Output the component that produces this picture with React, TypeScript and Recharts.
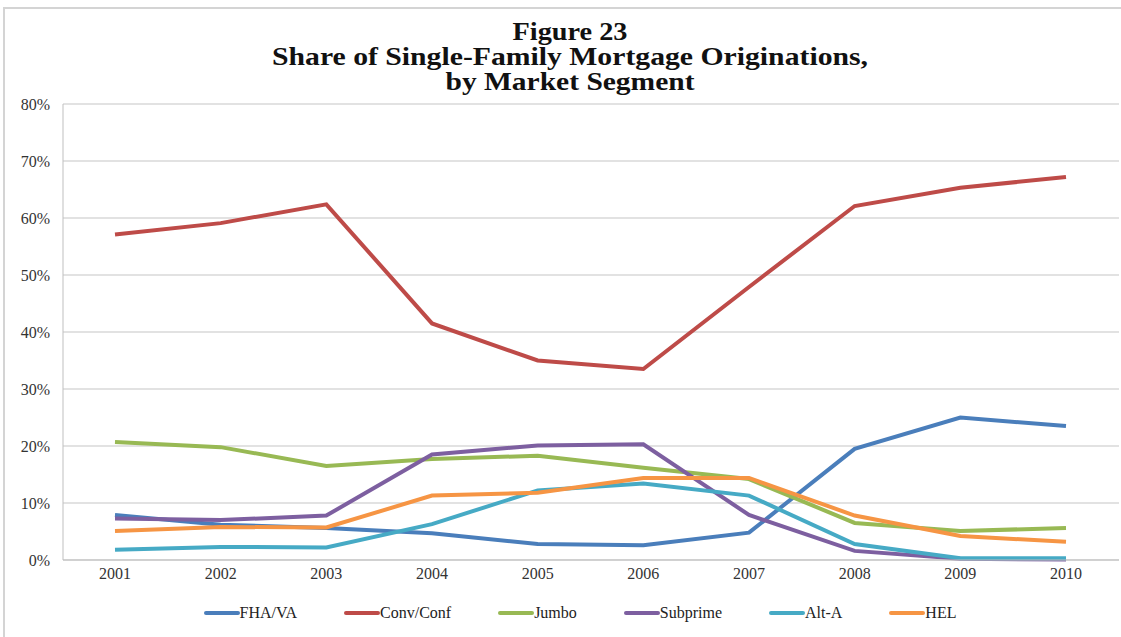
import { LineChart, Line, XAxis, YAxis, CartesianGrid, Legend } from "recharts";

const years = ["2001", "2002", "2003", "2004", "2005", "2006", "2007", "2008", "2009", "2010"];
const fhaVa = [7.9, 6.2, 5.6, 4.7, 2.8, 2.6, 4.8, 19.5, 25.0, 23.5];
const convConf = [57.1, 59.1, 62.4, 41.5, 35.0, 33.5, 47.9, 62.1, 65.3, 67.2];
const jumbo = [20.7, 19.8, 16.5, 17.7, 18.3, 16.2, 14.2, 6.5, 5.1, 5.6];
const subprime = [7.3, 7.0, 7.8, 18.5, 20.1, 20.3, 7.9, 1.6, 0.2, 0.1];
const altA = [1.8, 2.3, 2.2, 6.3, 12.2, 13.4, 11.3, 2.8, 0.3, 0.3];
const hel = [5.1, 5.8, 5.7, 11.3, 11.8, 14.4, 14.4, 7.8, 4.2, 3.2];
const yTicks = [0, 10, 20, 30, 40, 50, 60, 70, 80];
const titleLines = ["Figure 23", "Share of Single-Family Mortgage Originations,", "by Market Segment"];

const series = [
  { key: "fha", name: "FHA/VA", color: "#4a7ebb" },
  { key: "conv", name: "Conv/Conf", color: "#be4b48" },
  { key: "jumbo", name: "Jumbo", color: "#98b954" },
  { key: "sub", name: "Subprime", color: "#7d5fa0" },
  { key: "alt", name: "Alt-A", color: "#46aac5" },
  { key: "hel", name: "HEL", color: "#f69544" },
];

const data = years.map((year, i) => ({
  year,
  fha: fhaVa[i],
  conv: convConf[i],
  jumbo: jumbo[i],
  sub: subprime[i],
  alt: altA[i],
  hel: hel[i],
}));

const font = "Liberation Serif, Times New Roman, Times, serif";

function LegendBox() {
  return (
    <div style={{ display: "flex", justifyContent: "center", alignItems: "center", height: 32, paddingLeft: 41, gap: 47, fontFamily: font, fontSize: 16, color: "#222" }}>
      {series.map(s => (
        <div key={s.key} style={{ display: "flex", alignItems: "center" }}>
          <span style={{ display: "inline-block", width: 36, height: 4, borderRadius: 2, background: s.color }} />
          <span>{s.name}</span>
        </div>
      ))}
    </div>
  );
}

export default function App() {
  const titleWidths = [115, 596, 249];
  return (
    <div style={{ position: "absolute", left: 0, top: 0, width: 1121, height: 637, overflow: "hidden", background: "#fff", fontFamily: font }}>
      <div style={{ position: "absolute", left: 3, top: 7, width: 1140, height: 660, border: "2px solid #d4d4d4" }} />
      <LineChart width={1121} height={637} data={data} margin={{ top: 104, right: 2, left: 0, bottom: 0 }} style={{ position: "absolute", left: 0, top: 0, fontFamily: font }}>
        <CartesianGrid vertical={false} stroke="#d9d9d9" strokeWidth={1.5} />
        <XAxis dataKey="year" height={37} tickLine={false} stroke="#bfbfbf" padding={{ left: 52, right: 53 }}
          tick={{ fill: "#333", fontSize: 16, fontFamily: font }} />
        <YAxis width={63} domain={[0, 80]} ticks={yTicks} tickLine={false} stroke="#bfbfbf" tickMargin={7}
          tickFormatter={(v: number) => `${v}%`} tick={{ fill: "#333", fontSize: 16, fontFamily: font }} />
        <Legend verticalAlign="bottom" height={40} content={() => <LegendBox />} />
        {series.map(s => (
          <Line key={s.key} type="linear" dataKey={s.key} name={s.name} stroke={s.color} strokeWidth={4}
            dot={false} activeDot={false} isAnimationActive={false} />
        ))}
      </LineChart>
      <svg width={1121} height={100} style={{ position: "absolute", left: 0, top: 0 }}>
        {titleLines.map((t, i) => (
          <text key={t} x={570} y={40 + i * 25} textAnchor="middle" fontFamily={font} fontWeight="bold" fontSize={25}
            fill="#111" textLength={titleWidths[i]} lengthAdjust="spacingAndGlyphs">{t}</text>
        ))}
      </svg>
    </div>
  );
}
